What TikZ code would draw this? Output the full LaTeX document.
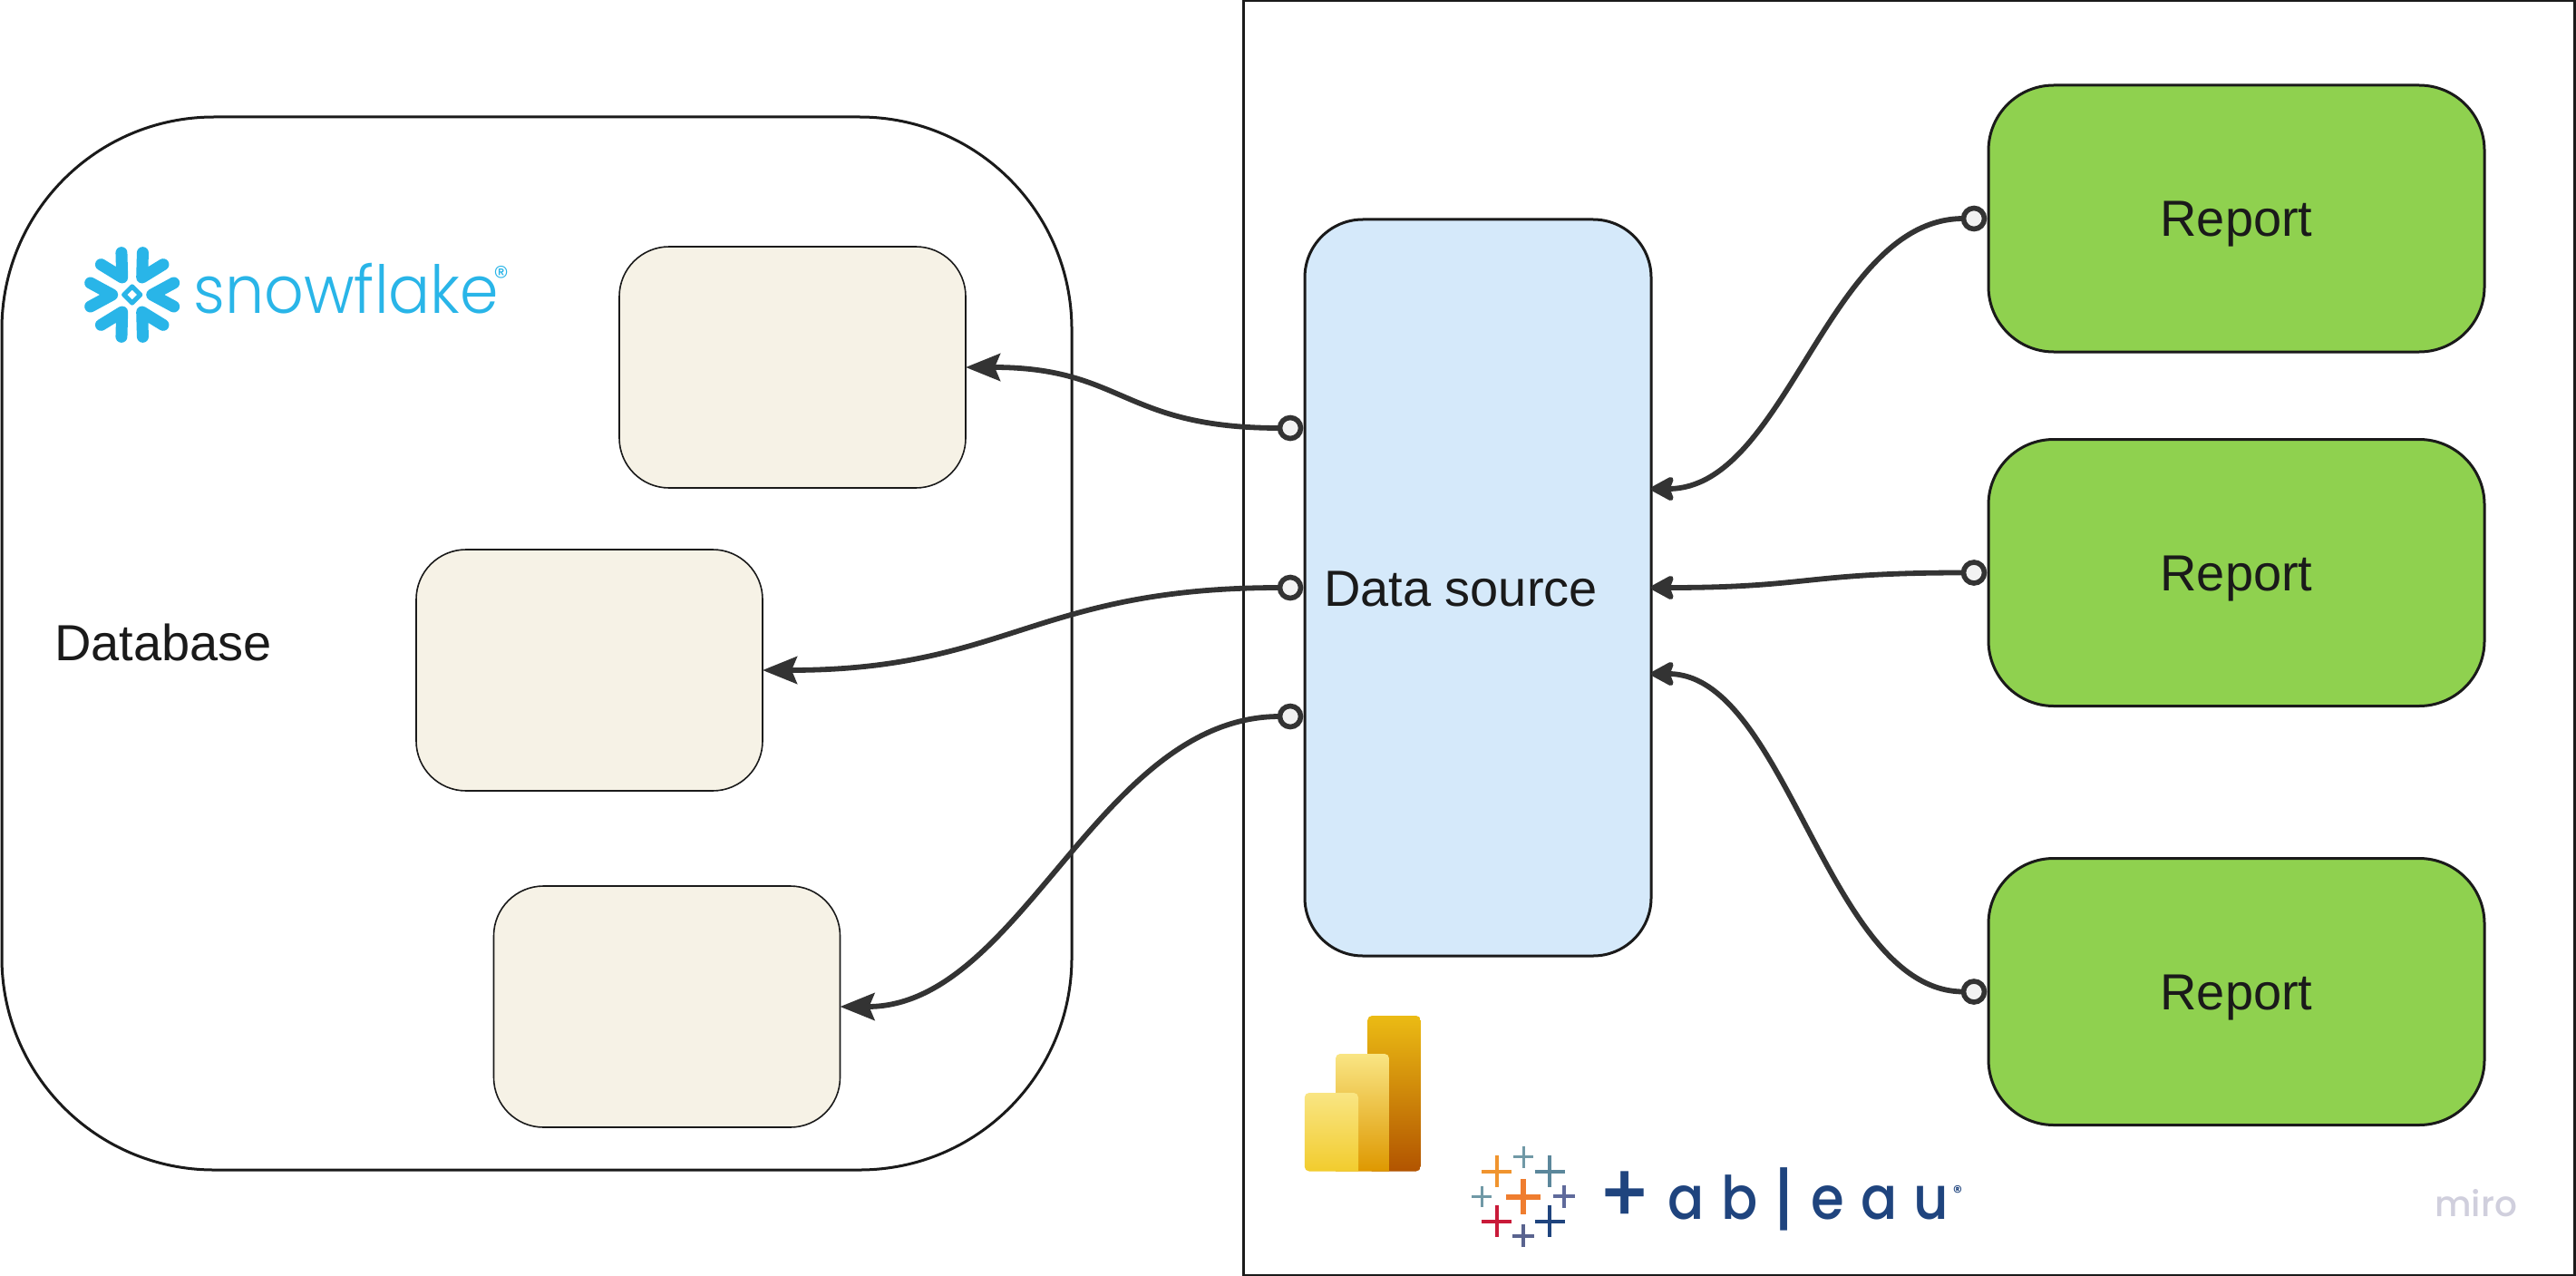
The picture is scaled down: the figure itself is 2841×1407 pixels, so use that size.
\documentclass[tikz,border=0pt]{standalone}
\usepackage{fontspec}
\setmainfont{Liberation Sans}
\newfontfamily\logofont{Poppins Medium}
\newfontfamily\snowfont{Poppins Light}
\usetikzlibrary{arrows.meta}
\definecolor{ink}{HTML}{1A1A1A}
\definecolor{wire}{HTML}{333333}
\definecolor{cream}{HTML}{F6F2E6}
\definecolor{dsblue}{HTML}{D5E9FA}
\definecolor{repgreen}{HTML}{8FD14F}
\definecolor{snow}{HTML}{29B5E8}
\definecolor{tabnavy}{HTML}{1F447E}
\definecolor{miroc}{HTML}{D0CFDD}
\definecolor{pbbacktop}{HTML}{EBBB14}
\definecolor{pbbackbot}{HTML}{B25400}
\definecolor{pbmidtop}{HTML}{F9E583}
\definecolor{pbmidbot}{HTML}{DE9800}
\definecolor{pbfrontbot}{HTML}{F2CC2E}
\definecolor{taborange}{HTML}{EF7D2F}
\definecolor{taborangeb}{HTML}{F0942E}
\definecolor{tabteal}{HTML}{5B879B}
\definecolor{tabtealb}{HTML}{7099A6}
\definecolor{tabred}{HTML}{C91A39}
\definecolor{tabviolet}{HTML}{59638F}
\definecolor{tabvioletb}{HTML}{5F6A9B}
\newcommand{\tabcross}[6]{\draw[#6,line width=#5*0.5pt] ({#1-#3},#2) -- ({#1+#3},#2) (#1,{#2-#4}) -- (#1,{#2+#4});}
\tikzset{
  box/.style={draw=ink,outer sep=0pt,inner sep=0pt,font=\fontsize{28}{32}\selectfont,text=ink,text height=20pt,text depth=0pt},
  framebox/.style={box,line width=1.5pt,minimum width=734pt,minimum height=702.5pt},
  dbbox/.style={box,line width=1.5pt,minimum width=590pt,minimum height=580.5pt,rounded corners=117pt},
  tablebox/.style={box,line width=0.8pt,fill=cream,minimum width=191pt,minimum height=133pt,rounded corners=27.5pt},
  dsbox/.style={box,line width=1.5pt,fill=dsblue,minimum width=191pt,minimum height=406pt,rounded corners=32pt},
  repbox/.style={box,line width=1.5pt,fill=repgreen,minimum width=273.5pt,minimum height=147pt,rounded corners=36pt},
  port/.style={circle,draw=wire,fill=black!5,line width=2.8pt,minimum size=11.5pt,inner sep=0pt,outer sep=0pt},
  wireleft/.style={draw=wire,line width=2.9pt,-{Stealth[length=19pt,width=15pt,inset=3pt]}},
  wireright/.style={draw=wire,line width=2.9pt,-{Stealth[length=15pt,width=16pt,inset=3pt,round]}},
  snowstroke/.style={draw=snow,line width=6.5pt,line cap=round,line join=round},
}
\begin{document}
\begin{tikzpicture}[x=0.5pt,y=-0.5pt]
\useasboundingbox (0,0) rectangle (2841,1407);
\fill[white] (0,0) rectangle (2841,1407);

\node[framebox] (frame) at (2105,703.5) {};
\node[dbbox] (db) at (592,709.5) {};
\node[box,draw=none,anchor=base west] (dblabel) at (60,728) {Database};

\node[tablebox] (t1) at (874,405) {};
\node[tablebox] (t2) at (650,739) {};
\node[tablebox] (t3) at (735.5,1110) {};

\node[dsbox] (ds) at (1630,648) {Data source\hspace{19pt}\null};
\coordinate (dsa) at (ds.east |- 0,539);
\coordinate (dsc) at (ds.east |- 0,743);

\node[repbox] (r1) at (2466.5,241) {Report};
\node[repbox] (r2) at (2466.5,631.5) {Report};
\node[repbox] (r3) at (2466.5,1093.5) {Report};

\node[port] (p1) at (1423,472) {};
\node[port] (p2) at (1423,648) {};
\node[port] (p3) at (1423,790) {};
\node[port] (q1) at (2177,241) {};
\node[port] (q2) at (2177,631.5) {};
\node[port] (q3) at (2177,1093.5) {};

\draw[wireleft] (p1.west) .. controls +(-175,0) and +(175,0) .. (t1.east);
\draw[wireleft] (p2.west) .. controls +(-270,0) and +(270,0) .. (t2.east);
\draw[wireleft] (p3.west) .. controls +(-200,0) and +(200,0) .. (t3.east);
\draw[wireright] (q1.west) .. controls +(-150,0) and +(150,0) .. (dsa);
\draw[wireright] (q2.west) .. controls +(-175,0) and +(175,0) .. (ds.east);
\draw[wireright] (q3.west) .. controls +(-150,0) and +(150,0) .. (dsc);

% snowflake logo
\begin{scope}[shift={(145.7,325)}]
  \foreach \a in {0,60,...,300}
    \draw[snowstroke,rotate=\a] (-46,-13) -- (-22,0) -- (-46,13);
  \draw[draw=snow,line width=2.6pt,line join=round] (-9,0) -- (0,-9) -- (9,0) -- (0,9) -- cycle;
\end{scope}
\node[anchor=base west,inner sep=0pt,text=snow,font=\snowfont\fontsize{36.5}{40}\selectfont] (snowtext) at (213,345) {\scalebox{.935}[1]{snowflake}};
\node[inner sep=0pt,text=snow,font=\snowfont\fontsize{17}{17}\selectfont] (snowreg) at (553,305) {®};

% power bi logo
\shade[top color=pbbacktop,bottom color=pbbackbot,rounded corners=2.5pt] (1508.2,1291.5) -- (1508.2,1120) -- (1566.8,1120) -- (1566.8,1291.5) -- cycle;
\shade[top color=pbmidtop,bottom color=pbmidbot,rounded corners=2.5pt] (1473,1291.5) -- (1473,1162) -- (1532,1162) [sharp corners] -- (1532,1291.5) -- cycle;
\shade[top color=pbmidtop,bottom color=pbfrontbot,rounded corners=2.5pt] (1498,1291.5) -- (1438.8,1291.5) -- (1438.8,1205) -- (1498,1205) [sharp corners] -- (1498,1291.5) -- cycle;

% tableau logo
\tabcross{1680.1}{1319.7}{18.9}{19.7}{5.8}{taborange}
\tabcross{1650.5}{1291.7}{16.6}{17.5}{4}{taborangeb}
\tabcross{1709.2}{1291.7}{16.6}{17.5}{4}{tabteal}
\tabcross{1650.5}{1346.7}{16.6}{17.5}{4}{tabred}
\tabcross{1709.2}{1346.7}{16.6}{17.5}{4}{tabnavy}
\tabcross{1680.1}{1275.7}{11.2}{12}{3.2}{tabtealb}
\tabcross{1680.1}{1362.7}{11.7}{12.6}{4}{tabviolet}
\tabcross{1634.2}{1319.3}{11.2}{11.7}{3.2}{tabtealb}
\tabcross{1725}{1319.3}{12}{12.7}{4}{tabvioletb}
\node[anchor=base west,inner sep=0pt,text=tabnavy,font=\logofont\fontsize{33}{33}\selectfont] (tabtext) at (1762,1344)
  {\scalebox{.9}[1]{\hbox to 215pt{\raisebox{-2pt}{\fontsize{46}{46}\selectfont +}\hfil a\hfil b\hfil \raisebox{-2pt}{\fontsize{38}{38}\selectfont |}\hfil e\hfil a\hfil u}}};
\node[inner sep=0pt,text=tabnavy,font=\logofont\fontsize{10}{10}\selectfont] (tabreg) at (2159,1314) {®};

\node[anchor=base west,inner sep=0pt,text=miroc,font=\logofont\fontsize{19.5}{20}\selectfont] (miro) at (2685,1341) {miro};
\end{tikzpicture}
\end{document}
